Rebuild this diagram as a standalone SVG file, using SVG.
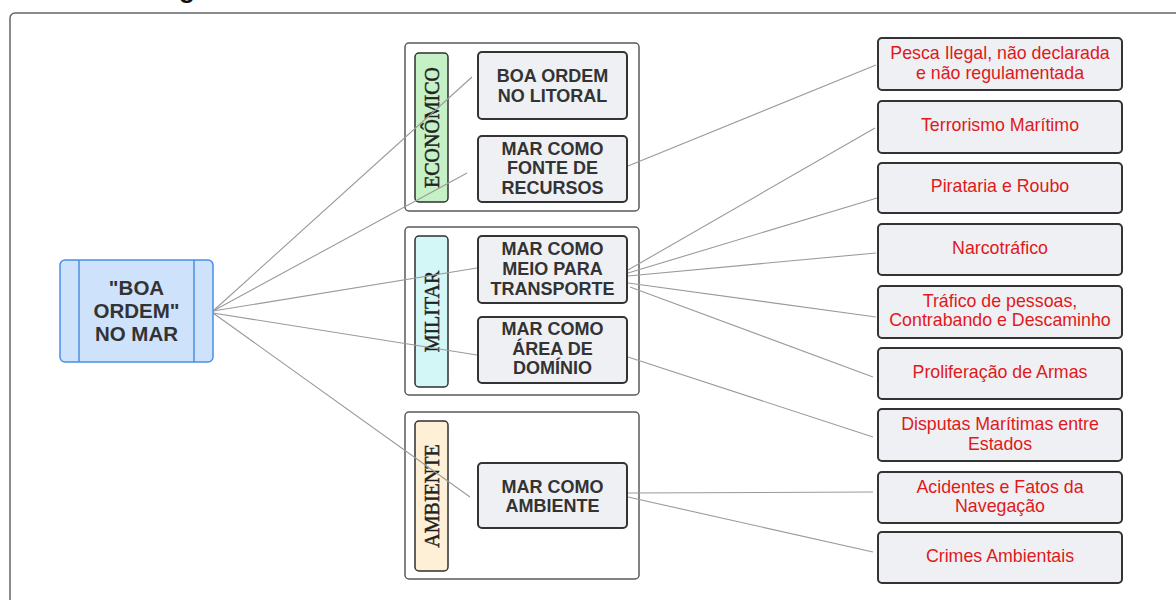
<svg xmlns="http://www.w3.org/2000/svg" width="1176" height="600" viewBox="0 0 1176 600">
<style>
.frame{fill:#fff;stroke:#5a5a5a;stroke-width:1.5}
.lbl{stroke:#2f2f2f;stroke-width:1.5}
.lt{font-family:"Liberation Serif","Times New Roman",serif;font-size:20px;fill:#222;stroke:#222;stroke-width:0.45}
.box{fill:#eef0f3;stroke:#333;stroke-width:2}
.bt{font-family:"Liberation Sans",Arial,sans-serif;font-size:18px;font-weight:bold;fill:#333;text-anchor:middle}
.rt{font-family:"Liberation Sans",Arial,sans-serif;font-size:17.8px;fill:#e0191c;text-anchor:middle}
.con line{stroke:#9a9a9a;stroke-width:1.1}
</style>
<rect width="1176" height="600" fill="#fff"/>
<text x="187" y="-2" font-family="Liberation Sans,Arial,sans-serif" font-size="26" font-weight="bold" fill="#111" text-anchor="middle">g</text>
<rect x="10" y="13" width="1200" height="620" rx="5" fill="none" stroke="#666" stroke-width="1.5"/>

<g id="grp-economico">
<rect class="frame" x="405" y="43" width="234" height="168" rx="4"/>
<rect class="lbl" x="415" y="53" width="33" height="149" rx="4" fill="#c6f1c6"/>
<text class="lt" transform="translate(439,127.5) rotate(-90)" text-anchor="middle">ECONÔMICO</text>
</g>
<g id="grp-militar">
<rect class="frame" x="405" y="227" width="234" height="168" rx="4"/>
<rect class="lbl" x="415" y="236" width="33" height="151" rx="4" fill="#d3f6f6"/>
<text class="lt" transform="translate(439,311.5) rotate(-90)" text-anchor="middle">MILITAR</text>
</g>
<g id="grp-ambiente">
<rect class="frame" x="405" y="412" width="234" height="167" rx="4"/>
<rect class="lbl" x="415" y="421" width="33" height="150" rx="4" fill="#fdf0d6"/>
<text class="lt" transform="translate(439,496) rotate(-90)" text-anchor="middle">AMBIENTE</text>
</g>

<g id="connectors" class="con">
<line x1="213" y1="311" x2="472" y2="77"/>
<line x1="213" y1="311" x2="467" y2="173"/>
<line x1="213" y1="311" x2="477" y2="268"/>
<line x1="213" y1="313" x2="477" y2="355"/>
<line x1="213" y1="313" x2="470" y2="497"/>
<line x1="628" y1="166" x2="876" y2="65"/>
<line x1="628" y1="270" x2="875" y2="128"/>
<line x1="628" y1="273" x2="877" y2="198"/>
<line x1="628" y1="276" x2="876" y2="253"/>
<line x1="628" y1="283" x2="876" y2="317"/>
<line x1="630" y1="287" x2="873" y2="377"/>
<line x1="628" y1="357" x2="873" y2="437"/>
<line x1="628" y1="493" x2="873" y2="492"/>
<line x1="628" y1="497" x2="873" y2="552"/>
</g>

<g id="n-main">
<rect x="60" y="260" width="153" height="102" rx="5" fill="#cfe2fb" stroke="#4a90e2" stroke-width="1.5"/>
<line x1="79" y1="260" x2="79" y2="362" stroke="#4a90e2" stroke-width="1.5"/>
<line x1="194" y1="260" x2="194" y2="362" stroke="#4a90e2" stroke-width="1.5"/>
<text class="bt" style="font-size:20.5px" x="136.5"><tspan x="136.5" y="295">"BOA</tspan><tspan x="136.5" y="318">ORDEM"</tspan><tspan x="136.5" y="341">NO MAR</tspan></text>
</g>

<g id="n-litoral"><rect class="box" x="478" y="52" width="149" height="67" rx="4"/>
<text class="bt"><tspan x="552.5" y="82">BOA ORDEM</tspan><tspan x="552.5" y="102">NO LITORAL</tspan></text></g>
<g id="n-fonte"><rect class="box" x="478" y="136" width="149" height="66" rx="4"/>
<text class="bt"><tspan x="552.5" y="154.5">MAR COMO</tspan><tspan x="552.5" y="174">FONTE DE</tspan><tspan x="552.5" y="193.5">RECURSOS</tspan></text></g>
<g id="n-transporte"><rect class="box" x="478" y="236" width="149" height="67" rx="4"/>
<text class="bt"><tspan x="552.5" y="254.5">MAR COMO</tspan><tspan x="552.5" y="274.5">MEIO PARA</tspan><tspan x="552.5" y="294.5">TRANSPORTE</tspan></text></g>
<g id="n-dominio"><rect class="box" x="478" y="317" width="149" height="66" rx="4"/>
<text class="bt"><tspan x="552.5" y="334.5">MAR COMO</tspan><tspan x="552.5" y="354.5">ÁREA DE</tspan><tspan x="552.5" y="373.5">DOMÍNIO</tspan></text></g>
<g id="n-ambiente"><rect class="box" x="478" y="463" width="149" height="65" rx="4"/>
<text class="bt"><tspan x="552.5" y="492.5">MAR COMO</tspan><tspan x="552.5" y="511.5">AMBIENTE</tspan></text></g>

<g id="r-pesca"><rect class="box" x="878" y="38" width="244" height="52" rx="4"/>
<text class="rt"><tspan x="1000" y="58.5">Pesca Ilegal, não declarada</tspan><tspan x="1000" y="78.5">e não regulamentada</tspan></text></g>
<g id="r-terrorismo"><rect class="box" x="878" y="101" width="244" height="52" rx="4"/>
<text class="rt" x="1000" y="130.5">Terrorismo Marítimo</text></g>
<g id="r-pirataria"><rect class="box" x="878" y="163" width="244" height="50" rx="4"/>
<text class="rt" x="1000" y="191.5">Pirataria e Roubo</text></g>
<g id="r-narco"><rect class="box" x="878" y="224" width="244" height="51" rx="4"/>
<text class="rt" x="1000" y="253.5">Narcotráfico</text></g>
<g id="r-trafico"><rect class="box" x="878" y="286" width="244" height="52" rx="4"/>
<text class="rt"><tspan x="1000" y="306.5">Tráfico de pessoas,</tspan><tspan x="1000" y="325.5">Contrabando e Descaminho</tspan></text></g>
<g id="r-armas"><rect class="box" x="878" y="348" width="244" height="51" rx="4"/>
<text class="rt" x="1000" y="377.5">Proliferação de Armas</text></g>
<g id="r-disputas"><rect class="box" x="878" y="409" width="244" height="52" rx="4"/>
<text class="rt"><tspan x="1000" y="429.5">Disputas Marítimas entre</tspan><tspan x="1000" y="449.5">Estados</tspan></text></g>
<g id="r-acidentes"><rect class="box" x="878" y="472" width="244" height="51" rx="4"/>
<text class="rt"><tspan x="1000" y="492.5">Acidentes e Fatos da</tspan><tspan x="1000" y="511.5">Navegação</tspan></text></g>
<g id="r-crimes"><rect class="box" x="878" y="532" width="244" height="51" rx="4"/>
<text class="rt" x="1000" y="561.5">Crimes Ambientais</text></g>
</svg>
